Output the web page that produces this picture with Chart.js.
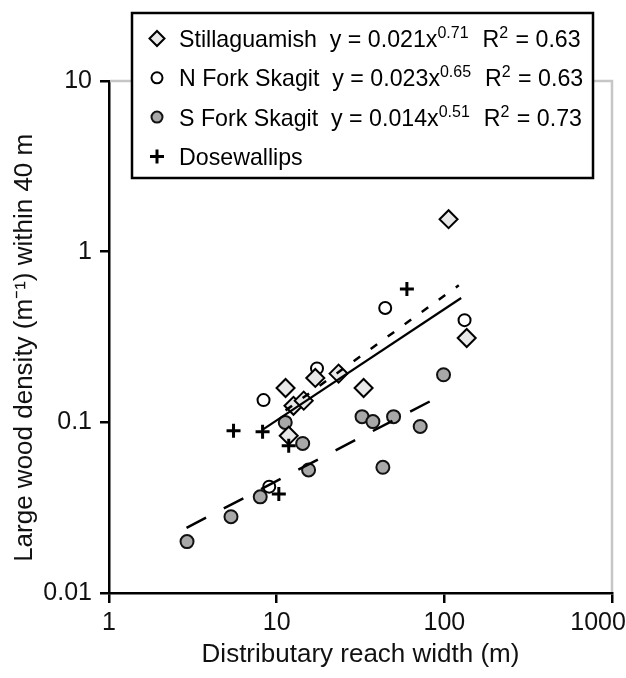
<!DOCTYPE html>
<html><head><meta charset="utf-8">
<script src="https://cdn.jsdelivr.net/npm/chart.js@4.4.1/dist/chart.umd.min.js"></script>
<style>html,body{margin:0;padding:0;background:#fff}#wrap{width:626px;height:678px;position:relative}</style>
</head><body><div id="wrap"><canvas id="c" width="626" height="678"></canvas></div>
<script>
// ---- data ----
const xTicks = [1, 10, 100, 1000];
const xTickLabels = ['1', '10', '100', '1000'];
const yTicks = [0.01, 0.1, 1, 10];
const yTickLabels = ['0.01', '0.1', '1', '10'];

const stillX = [11.3, 11.8, 12.6, 14.5, 17, 23.4, 33, 106, 136];
const stillY = [0.159, 0.0835, 0.125, 0.134, 0.182, 0.193, 0.159, 1.55, 0.312];
const nforkX = [8.35, 9.03, 17.4, 44.4, 132];
const nforkY = [0.135, 0.042, 0.207, 0.468, 0.397];
const sforkX = [2.92, 5.34, 7.98, 11.25, 14.3, 15.5, 32.3, 37.5, 43, 49.8, 71.8, 98.9];
const sforkY = [0.020, 0.028, 0.0366, 0.0999, 0.0752, 0.0526, 0.108, 0.101, 0.0545, 0.108, 0.0946, 0.19];
const doseX = [5.53, 8.24, 10.3, 11.8, 59.8];
const doseY = [0.0893, 0.088, 0.038, 0.073, 0.604];

// fitted power-law lines (end points)
const fitStillX = [11.3, 122];  const fitStillY = [0.1175, 0.636];
const fitNforkX = [8.3, 126];   const fitNforkY = [0.091, 0.535];
const fitSforkX = [2.9, 99];    const fitSforkY = [0.0241, 0.146];

const seriesNames = ['Stillaguamish', 'N Fork Skagit', 'S Fork Skagit', 'Dosewallips'];
const fitCoef = ['0.021', '0.023', '0.014', null];
const fitExp = ['0.71', '0.65', '0.51', null];
const fitR2 = ['0.63', '0.63', '0.73', null];

const xTitle = 'Distributary reach width (m)';
const yTitle = 'Large wood density (m\u207B\u00B9) within 40 m';

// ---- chart ----
const FONT = '"Liberation Sans", Arial, sans-serif';
const pts = (xs, ys) => xs.map((x, i) => ({ x: x, y: ys[i] }));

const styles = [
  { pointStyle: 'rectRot', radius: 9, backgroundColor: '#e8e8e8', borderColor: '#000', borderWidth: 2 },
  { pointStyle: 'circle', radius: 6, backgroundColor: '#ffffff', borderColor: '#000', borderWidth: 2 },
  { pointStyle: 'circle', radius: 6.5, backgroundColor: '#a8a8a8', borderColor: '#111', borderWidth: 2 },
  { pointStyle: 'cross', radius: 7, backgroundColor: '#000', borderColor: '#000', borderWidth: 3 }
];

function markerDs(label, xs, ys, s) {
  return {
    type: 'scatter', label: label, data: pts(xs, ys),
    pointStyle: s.pointStyle, pointRadius: s.radius, pointHoverRadius: s.radius,
    backgroundColor: s.backgroundColor, borderColor: s.borderColor, borderWidth: s.borderWidth,
    showLine: false
  };
}
function lineDs(label, xs, ys, dash, w) {
  return {
    type: 'line', label: label, data: pts(xs, ys),
    borderColor: '#000', borderWidth: w, borderDash: dash, pointRadius: 0,
    fill: false, tension: 0, borderCapStyle: 'butt'
  };
}

const legendPlugin = {
  id: 'boxLegend',
  afterDatasetsDraw(chart) {
    const ctx = chart.ctx, a = chart.chartArea;
    // grey top and right frame
    ctx.save();
    ctx.strokeStyle = '#c6c6c6'; ctx.lineWidth = 2.5;
    ctx.beginPath();
    ctx.moveTo(a.left + 1, a.top); ctx.lineTo(a.right, a.top); ctx.lineTo(a.right, a.bottom - 1);
    ctx.stroke();
    ctx.restore();
  },
  afterDraw(chart, args, opts) {
    const ctx = chart.ctx;
    const b = opts.box;
    ctx.save();
    ctx.fillStyle = '#fff';
    ctx.fillRect(b.left, b.top, b.width, b.height);
    ctx.strokeStyle = '#000'; ctx.lineWidth = 2.5;
    ctx.strokeRect(b.left, b.top, b.width, b.height);
    const mainFont = '23.2px ' + FONT, supFont = '16px ' + FONT;
    ctx.textBaseline = 'alphabetic'; ctx.textAlign = 'left';
    seriesNames.forEach((name, i) => {
      const cy = b.rowTop + i * b.rowGap;
      const s = styles[i];
      ctx.fillStyle = s.backgroundColor; ctx.strokeStyle = s.borderColor; ctx.lineWidth = s.borderWidth;
      Chart.helpers.drawPoint(ctx, { pointStyle: s.pointStyle, radius: i === 0 ? 7.5 : (i === 3 ? 7 : 5.5), rotation: 0, borderWidth: s.borderWidth }, b.markerX, cy);
      const base = cy + 8.5;
      let x = b.textX;
      const segs = [];
      segs.push([name + '  ', false]);
      if (fitCoef[i]) {
        segs.push(['y = ' + fitCoef[i] + 'x', false]);
        segs.push([fitExp[i], true]);
        segs.push(['  R', false]);
        segs.push(['2', true]);
        segs.push([' = ' + fitR2[i], false]);
      }
      ctx.fillStyle = '#000';
      segs.forEach(([t, sup]) => {
        ctx.font = sup ? supFont : mainFont;
        ctx.fillText(t, x, sup ? base - 9 : base);
        x += ctx.measureText(t).width + (sup ? 1 : 0);
      });
    });
    ctx.restore();
  }
};

new Chart(document.getElementById('c'), {
  data: {
    datasets: [
      lineDs('Stillaguamish fit', fitStillX, fitStillY, [8, 13], 2.5),
      lineDs('N Fork Skagit fit', fitNforkX, fitNforkY, [], 2.2),
      lineDs('S Fork Skagit fit', fitSforkX, fitSforkY, [22, 20], 2.5),
      markerDs(seriesNames[3], doseX, doseY, styles[3]),
      markerDs(seriesNames[0], stillX, stillY, styles[0]),
      markerDs(seriesNames[1], nforkX, nforkY, styles[1]),
      markerDs(seriesNames[2], sforkX, sforkY, styles[2])
    ]
  },
  options: {
    responsive: false, animation: false, devicePixelRatio: 1,
    layout: { padding: { top: 81, right: 14, left: 0, bottom: 0 } },
    plugins: {
      legend: { display: false }, tooltip: { enabled: false },
      boxLegend: { box: { left: 132, top: 13, width: 461, height: 165, markerX: 157, textX: 179, rowTop: 38.5, rowGap: 39.3 } }
    },
    scales: {
      x: {
        type: 'logarithmic', position: 'bottom', min: 1, max: 1000,
        afterBuildTicks: s => { s.ticks = xTicks.map(v => ({ value: v })); },
        afterFit: s => { s.height = 85; s.paddingLeft = 0; s.paddingRight = 0; },
        ticks: {
          color: '#111', font: { family: FONT, size: 25 }, padding: 5, maxRotation: 0, autoSkip: false,
          callback: (v) => { const i = xTicks.indexOf(v); return i < 0 ? '' : (i === xTicks.length - 1 ? xTickLabels[i] + '\u00a0\u00a0\u00a0\u00a0' : xTickLabels[i]); }
        },
        grid: { drawOnChartArea: false, drawTicks: true, tickLength: 10, color: '#000', lineWidth: 2.5 },
        border: { display: true, color: '#000', width: 2.5 },
        title: { display: true, text: xTitle, color: '#111', font: { family: FONT, size: 26 }, padding: { top: 0, bottom: 8 } }
      },
      y: {
        type: 'logarithmic', position: 'left', min: 0.01, max: 10,
        afterBuildTicks: s => { s.ticks = yTicks.map(v => ({ value: v })); },
        afterFit: s => { s.width = 109; s.paddingTop = 0; s.paddingBottom = 0; },
        ticks: {
          color: '#111', font: { family: FONT, size: 25 }, padding: 8, autoSkip: false,
          callback: (v) => { const i = yTicks.findIndex(t => Math.abs(t - v) < t * 1e-6); return i < 0 ? '' : yTickLabels[i]; }
        },
        grid: { drawOnChartArea: false, drawTicks: true, tickLength: 9, color: '#000', lineWidth: 2.5 },
        border: { display: true, color: '#000', width: 2.5 },
        title: { display: true, text: yTitle + '\u00a0\u00a0\u00a0', color: '#111', font: { family: FONT, size: 26 }, padding: { top: 9, bottom: 0 } }
      }
    }
  },
  plugins: [legendPlugin]
});
</script>
</body></html>
